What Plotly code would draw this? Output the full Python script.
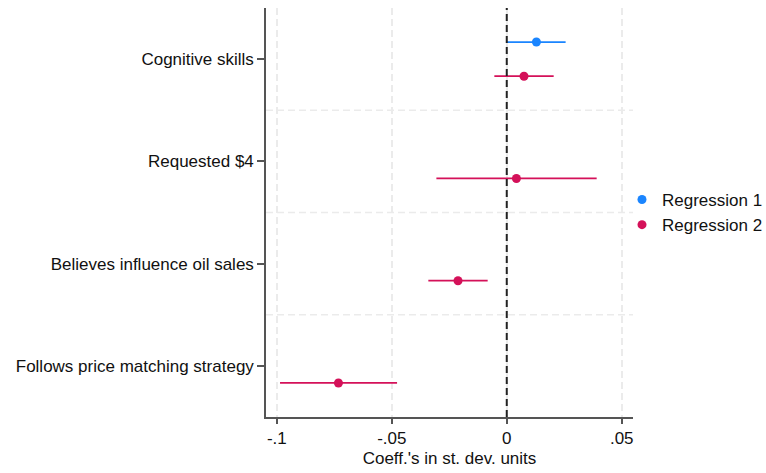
import plotly.graph_objects as go

categories = ["Cognitive skills", "Requested $4", "Believes influence oil sales", "Follows price matching strategy"]

reg1_cats = ["Cognitive skills"]
reg1_coef = [0.0129]
reg1_lo = [0.0000]
reg1_hi = [0.0256]

reg2_cats = ["Cognitive skills", "Requested $4", "Believes influence oil sales", "Follows price matching strategy"]
reg2_coef = [0.0075, 0.0042, -0.0212, -0.0732]
reg2_lo = [-0.0054, -0.0306, -0.0341, -0.0986]
reg2_hi = [0.0204, 0.0391, -0.0083, -0.0477]

x_ticks = [-0.1, -0.05, 0, 0.05]
x_ticklabels = ["-.1", "-.05", "0", ".05"]

BLUE = "#1a85ff"
RED = "#d41159"
FONT = "Liberation Sans, Arial, Helvetica, sans-serif"
OFFSET = 0.167

pos = {c: i + 1 for i, c in enumerate(categories)}

fig = go.Figure()

def add_series(name, cats, coef, lo, hi, color, off):
    y = [pos[c] + off for c in cats]
    fig.add_trace(go.Scatter(
        x=coef, y=y, mode="markers", name=name,
        marker=dict(color=color, size=9),
        error_x=dict(type="data", symmetric=False,
                     array=[h - c for h, c in zip(hi, coef)],
                     arrayminus=[c - l for c, l in zip(coef, lo)],
                     color=color, thickness=1.8, width=0),
        hoverinfo="x+y",
    ))

add_series("Regression 1", reg1_cats, reg1_coef, reg1_lo, reg1_hi, BLUE, -OFFSET)
add_series("Regression 2", reg2_cats, reg2_coef, reg2_lo, reg2_hi, RED, OFFSET)

# horizontal separators between categories
for k in range(1, len(categories)):
    fig.add_shape(type="line", xref="paper", x0=0, x1=1, yref="y", y0=k + 0.5, y1=k + 0.5,
                  line=dict(color="#ebebeb", width=1.5, dash="7px,4px"), layer="below")

# zero reference line
fig.add_shape(type="line", xref="x", x0=0, x1=0, yref="paper", y0=0, y1=1,
              line=dict(color="#222222", width=2, dash="7px,4px"), layer="above")

fig.update_layout(
    width=766, height=473,
    margin=dict(l=266, r=133, t=8, b=56, autoexpand=False),
    paper_bgcolor="white", plot_bgcolor="white",
    font=dict(family=FONT, size=17, color="#111111"),
    showlegend=True,
    legend=dict(x=0.970, xanchor="left", y=0.5, yanchor="middle",
                font=dict(size=17), itemwidth=30, tracegroupgap=0,
                bgcolor="rgba(0,0,0,0)"),
    xaxis=dict(range=[-0.1047, 0.0549], tickvals=x_ticks, ticktext=x_ticklabels,
               showgrid=True, gridcolor="#ebebeb", gridwidth=1.5, griddash="7px,4px",
               zeroline=False, showline=True, linecolor="#555555", linewidth=1.5,
               ticks="outside", ticklen=5, tickcolor="#555555", tickwidth=1.5,
               title=dict(text="Coeff.'s in st. dev. units", font=dict(size=17), standoff=5),
               automargin=False, mirror=False),
    yaxis=dict(range=[4.5, 0.5], tickvals=[pos[c] for c in categories], ticktext=categories,
               showgrid=False, zeroline=False, showline=True, linecolor="#555555", linewidth=1.5,
               ticks="outside", ticklen=7, tickcolor="#555555", tickwidth=1.5,
               automargin=False),
)

fig.write_html("out.html",
               config={"displayModeBar": False},
               post_script="document.body.style.margin='0';document.body.style.overflow='hidden';")
